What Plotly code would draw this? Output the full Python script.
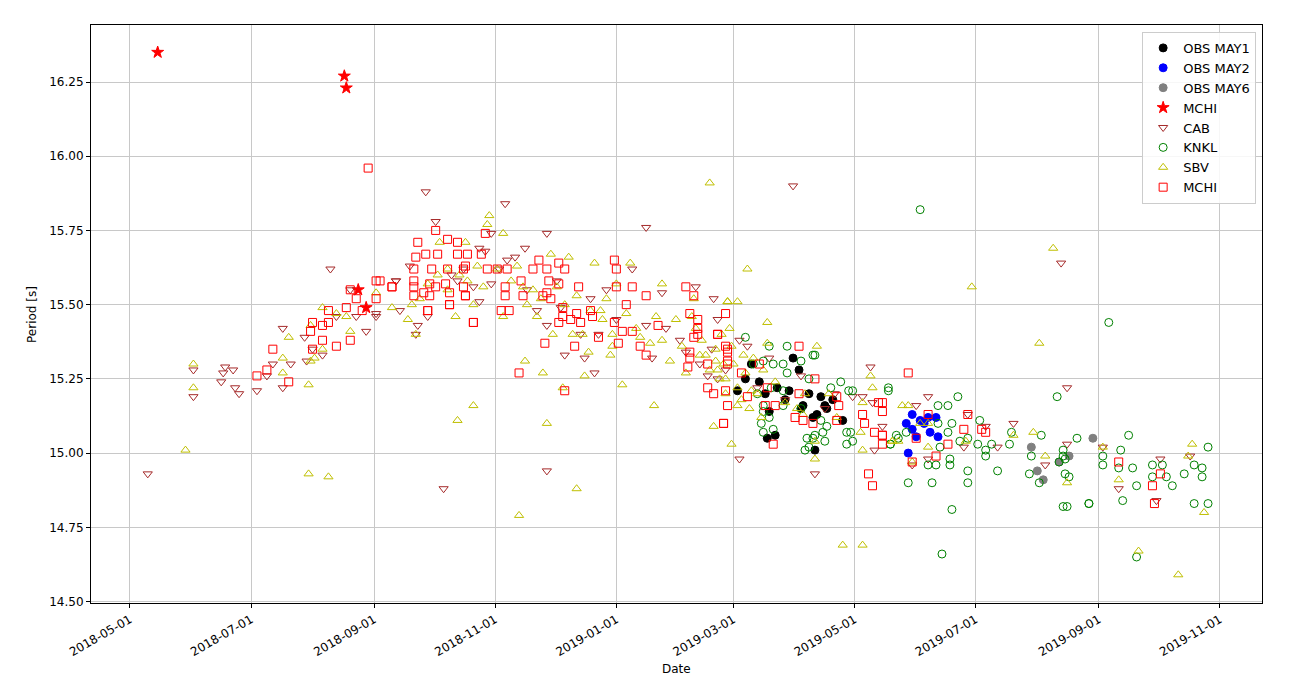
import pandas as pd
import plotly.graph_objects as go

BASE = "2018-05-01"  # day offsets below are counted from this date

# OBS MAY1
may1_day = [306, 310, 313, 317, 320, 321, 325, 326, 330, 334, 337, 338, 339, 342, 344, 345, 346, 348,
            350, 351, 354, 359, 322, 332]
may1_period = [15.21, 15.25, 15.30, 15.24, 15.20, 15.05, 15.06, 15.22, 15.18, 15.32, 15.28, 15.15, 15.16,
               15.20, 15.12, 15.01, 15.13, 15.19, 15.16, 15.15, 15.18, 15.11, 15.14, 15.21]
# OBS MAY2
may2_day = [394, 391, 400, 406, 394, 396, 407, 392, 402, 398, 403]
may2_period = [15.13, 15.10, 15.10, 15.12, 15.08, 15.055, 15.055, 15.00, 15.12, 15.11, 15.07]
# OBS MAY6
may6_day = [454, 485, 457, 460, 468, 473]
may6_period = [15.02, 15.05, 14.94, 14.91, 14.97, 14.99]
# MCHI (stars)
star_day = [14, 108, 109, 115, 119]
star_period = [16.35, 16.27, 16.23, 15.55, 15.49]
# CAB
cab_day = [9, 32, 32, 48, 47, 46, 52, 53, 55, 64, 69, 77, 72, 77, 81, 88, 89, 92, 101, 104, 114, 119, 124, 97, 134,
           149, 154, 158, 189, 210, 210, 260, 199, 176, 194, 190, 141, 134, 136, 150, 145, 144, 176, 182, 205, 210,
           217, 232, 227, 236, 219, 229, 234, 263, 260, 268, 253, 285, 294, 296, 280, 287, 291, 296, 307, 311, 293,
           307, 322, 338, 334, 364, 369, 373, 374, 375, 379, 345, 396, 402, 394, 402, 422, 420, 431, 437, 445, 469,
           472, 472, 461, 490, 498, 519, 517, 534, 111, 124, 165, 173, 179, 182, 162, 168, 186, 200, 215, 240, 245,
           270, 277, 300, 316, 330, 350, 355]
cab_period = [14.93, 15.28, 15.19, 15.29, 15.27, 15.24, 15.28, 15.22, 15.20, 15.21, 15.26, 15.42, 15.30, 15.22,
              15.30, 15.39, 15.31, 15.35, 15.62, 15.46, 15.46, 15.41, 15.46, 15.33, 15.58,
              15.88, 15.78, 14.88, 15.84, 15.74, 14.94, 15.76, 15.69, 15.69, 15.66, 15.65, 15.63, 15.58, 15.48,
              15.46, 15.43, 15.40, 15.51, 15.57, 15.48, 15.43, 15.49, 15.52, 15.40, 15.40, 15.33, 15.32, 15.27,
              15.32, 15.43, 15.54, 15.62, 15.56, 15.52, 15.45, 15.34, 15.30, 15.26, 15.25, 15.38, 15.36, 15.35,
              14.98, 15.32, 15.26, 15.90, 15.19, 15.19, 15.29, 15.17, 15.01, 15.09, 14.93, 15.16, 15.19, 14.96,
              14.98, 15.13, 15.02, 15.09, 15.02, 15.10, 15.64, 15.22, 15.03, 14.96, 15.02, 14.88, 14.98, 14.84,
              14.99, 15.55, 15.47, 15.58, 15.56, 15.68, 15.74, 15.60, 15.62, 15.62, 15.55, 15.58, 15.55, 15.45,
              15.42, 15.38, 15.28, 15.22, 15.18, 15.15, 15.20]
# KNKL
knkl_day = [310, 322, 331, 344, 345, 319, 324, 329, 331, 338, 342, 353, 358, 362, 364, 382, 314, 316, 319, 329,
            319, 322, 318, 324, 319, 341, 349, 350, 345, 361, 364, 361, 342, 340, 338, 348, 351, 323, 329, 344,
            363, 383, 386,
            398, 382, 417, 412, 407, 414, 412, 407, 408, 391, 387, 383, 406, 402, 413, 413, 392, 404, 422, 422,
            414, 409, 418, 422, 428, 427, 431, 431, 434, 437, 443, 444, 459, 454, 453, 458, 467, 477, 470, 470,
            471, 468, 471, 473, 470, 472, 483,
            493, 503, 499, 490, 490, 498, 505, 483, 500, 507, 515, 515, 520, 522, 525, 531, 536, 540, 540, 543,
            536, 543, 507]
knkl_period = [15.39, 15.36, 15.36, 15.33, 15.33, 15.31, 15.30, 15.30, 15.27, 15.31, 15.25, 15.22, 15.24, 15.21,
               15.21, 15.22, 15.30, 15.20, 15.16, 15.16, 15.14, 15.12, 15.10, 15.08, 15.07, 15.05, 15.07, 15.04,
               15.06, 15.07, 15.04, 15.03, 15.02, 15.01, 15.15, 15.11, 15.09, 15.22, 15.21, 15.05, 15.07, 15.03,
               15.06,
               15.82, 15.21, 15.19, 15.16, 15.16, 15.10, 15.07, 15.10, 15.02, 15.07, 15.05, 15.03, 14.96, 14.96,
               14.98, 14.96, 14.90, 14.90, 14.94, 14.90, 14.81, 14.66, 15.04, 15.05, 15.11, 15.03, 15.01, 14.99,
               15.03, 14.94, 15.03, 15.07, 15.06, 14.99, 14.93, 14.90, 15.19, 15.05, 15.01, 14.99, 14.98, 14.97,
               14.93, 14.92, 14.82, 14.82, 14.83,
               15.44, 15.06, 15.01, 14.99, 14.96, 14.95, 14.95, 14.83, 14.84, 14.89, 14.92, 14.96, 14.96, 14.92,
               14.89, 14.93, 14.96, 14.95, 14.92, 15.02, 14.83, 14.83, 14.65]
# SBV
sbv_day = [28, 32, 32, 80, 77, 77, 90, 90, 100, 91, 93, 97, 104, 97, 109, 111, 124, 132, 91,
           142, 156, 169, 164, 180, 181, 188, 212, 221, 234, 252, 268, 292, 140, 144, 173, 188, 205, 213, 223, 228,
           199, 208, 218, 229, 231, 248, 264, 243, 243, 242, 257, 265, 268, 262, 173, 165, 210, 280, 296, 299, 301,
           294, 225, 196,
           311, 306, 301, 321, 284, 303, 346, 373, 374, 369, 368, 369, 345, 345, 384, 321, 359, 369,
           465, 424, 458, 389, 392, 398, 402, 384, 387, 402, 421, 445, 455, 461, 472, 394, 490, 498, 535, 533, 541,
           508, 528,
           285, 288, 290, 292, 295, 297, 300, 302, 304, 306, 308, 310, 312, 314, 316, 318, 303, 298, 306, 300, 309,
           313, 319, 325, 330, 336, 340, 352, 356, 339, 295, 287, 283,
           150, 155, 160, 166, 170, 175, 185, 192, 198, 203, 207, 215, 219, 225, 232, 238, 146, 160, 178, 195, 200,
           237, 250, 255, 240, 245, 275, 278, 272]
sbv_period = [15.01, 15.30, 15.22, 15.39, 15.32, 15.27, 15.23, 14.93, 14.92, 15.31, 15.32, 15.35, 15.47, 15.49,
              15.46, 15.41, 15.54, 15.49, 15.43,
              15.50, 15.71, 15.71, 15.46, 15.77, 15.80, 15.74, 15.67, 15.66, 15.64, 15.64, 15.57, 15.91, 15.45,
              15.40, 15.50, 15.46, 15.46, 15.40, 15.40, 15.40, 15.31, 15.27, 15.22, 15.26, 15.34, 15.23, 15.16,
              15.40, 15.36, 15.33, 15.39, 15.46, 15.38, 15.37, 15.16, 15.11, 15.10, 15.27, 15.28, 15.30, 15.51,
              15.09, 14.88, 14.79,
              15.62, 15.51, 15.51, 15.44, 15.52, 15.03, 15.36, 15.26, 15.22, 15.17, 15.07, 15.01, 15.04, 14.98,
              15.04, 15.37, 14.69, 14.69,
              15.69, 15.56, 15.37, 15.16, 15.16, 15.10, 15.10, 15.04, 15.04, 15.02, 15.04, 15.06, 15.07, 14.99,
              14.90, 14.97, 15.02, 14.91, 15.03, 14.99, 14.80, 14.67, 14.59,
              15.42, 15.38, 15.33, 15.28, 15.35, 15.25, 15.20, 15.42, 15.30, 15.22, 15.18, 15.27, 15.15, 15.32,
              15.20, 15.12, 15.36, 15.40, 15.16, 15.25, 15.33, 15.21, 15.28, 15.24, 15.17, 15.15, 15.20, 15.20,
              15.12, 15.13, 15.31, 15.33, 15.46,
              15.57, 15.60, 15.62, 15.60, 15.58, 15.63, 15.62, 15.58, 15.56, 15.55, 15.52, 15.56, 15.50, 15.53,
              15.48, 15.45, 15.52, 15.55, 15.56, 15.63, 15.50, 15.48, 15.47, 15.42, 15.52, 15.57, 15.45, 15.36,
              15.31]
# MCHI (squares)
mchi_day = [72, 69, 64, 80, 92, 91, 92, 97, 100, 100, 97, 104, 111, 114, 109, 117, 111, 124, 124, 132, 120, 145,
            149, 144, 154, 160, 165, 165, 155, 169, 179, 143, 150, 161, 169, 170, 177,
            143, 152, 160, 168, 180, 185, 190, 203, 210, 216, 206, 219, 244, 245, 126, 132, 143, 151, 159, 168, 143,
            151, 148, 161, 169, 154, 150, 161, 173, 189, 197, 189, 187, 191, 198, 211, 210, 216, 208, 212, 226, 225,
            232, 218, 216, 222, 227, 233, 218, 209, 224, 236, 245, 244, 246, 248, 250, 253, 260, 257, 253, 266, 260,
            196, 219, 173,
            280, 284, 282, 286, 282, 286, 286, 291, 296, 291, 300, 301, 301, 299, 284, 296, 282, 281, 300, 300, 301,
            301, 294, 301, 299, 308, 311, 317, 321, 320, 325, 324, 337, 345, 337, 335, 339, 344, 356, 357, 356, 369,
            370, 372, 375, 377, 379, 379, 374,
            392, 379, 379, 379, 402, 396, 412, 406, 394, 422, 420, 429, 431, 498, 519, 515, 516]
mchi_period = [15.35, 15.28, 15.26, 15.24, 15.44, 15.41, 15.35, 15.43, 15.48, 15.44, 15.38, 15.36, 15.55, 15.52,
               15.49, 15.48, 15.38, 15.58, 15.52, 15.56, 15.96, 15.71, 15.67, 15.66, 15.75, 15.72, 15.71, 15.67,
               15.67, 15.63, 15.74, 15.58, 15.48, 15.50, 15.53, 15.67, 15.67,
               15.62, 15.62, 15.62, 15.62, 15.62, 15.62, 15.62, 15.62, 15.62, 15.64, 15.65, 15.62, 15.65, 15.62,
               15.58, 15.56, 15.56, 15.57, 15.57, 15.56, 15.53, 15.53, 15.54, 15.54, 15.53, 15.56, 15.48, 15.50,
               15.44, 15.56, 15.58, 15.53, 15.48, 15.48, 15.53, 15.58, 15.54, 15.57, 15.53, 15.52, 15.56, 15.47,
               15.48, 15.46, 15.44, 15.45, 15.44, 15.46, 15.49, 15.37, 15.36, 15.39, 15.56, 15.44, 15.37, 15.41,
               15.50, 15.56, 15.53, 15.36, 15.41, 15.43, 15.33, 15.27, 15.21, 15.44,
               15.56, 15.53, 15.47, 15.45, 15.34, 15.42, 15.40, 15.30, 15.40, 15.22, 15.21, 15.30, 15.34, 15.10,
               15.39, 15.40, 15.32, 15.29, 15.47, 15.36, 15.35, 15.31, 15.20, 15.16, 15.10, 15.27, 15.19, 15.30,
               15.22, 15.16, 15.16, 15.03, 15.36, 15.25, 15.20, 15.12, 15.11, 15.10, 15.19, 15.16, 15.11, 15.13,
               15.10, 14.93, 15.07, 15.17, 15.06, 15.03, 14.89,
               15.27, 15.17, 15.14, 15.06, 15.13, 15.05, 15.03, 14.99, 14.97, 15.13, 15.08, 15.08, 15.07, 14.97,
               14.93, 14.89, 14.83]

x_ticks = ["2018-05-01", "2018-07-01", "2018-09-01", "2018-11-01", "2019-01-01",
           "2019-03-01", "2019-05-01", "2019-07-01", "2019-09-01", "2019-11-01"]
y_ticks = [14.50, 14.75, 15.00, 15.25, 15.50, 15.75, 16.00, 16.25]


def to_dates(days):
    return pd.Timestamp(BASE) + pd.to_timedelta(days, unit="D")


series = [
    ("OBS MAY1", may1_day, may1_period, "circle", "black", 8),
    ("OBS MAY2", may2_day, may2_period, "circle", "#0000ff", 8),
    ("OBS MAY6", may6_day, may6_period, "circle", "#808080", 8),
    ("MCHI", star_day, star_period, "star", "#ff0000", 9),
    ("CAB", cab_day, cab_period, "triangle-down-open", "#a52a2a", 8),
    ("KNKL", knkl_day, knkl_period, "circle-open", "#008000", 8),
    ("SBV", sbv_day, sbv_period, "triangle-up-open", "#bfbf00", 8),
    ("MCHI", mchi_day, mchi_period, "square-open", "#ff0000", 8),
]

fig = go.Figure()
for name, d, p, sym, col, sz in series:
    fig.add_trace(go.Scatter(
        x=to_dates(d), y=p, mode="markers", name=name,
        marker=dict(symbol=sym, color=col, size=sz, line=dict(width=1, color=col)),
    ))

# the page body adds an 8px offset, so margins are shifted to place the axes box as in the reference
fig.update_layout(
    width=1301, height=676,
    margin=dict(l=83, r=47, t=17, b=81),
    paper_bgcolor="white", plot_bgcolor="white",
    font=dict(family="DejaVu Sans", size=12, color="black"),
    showlegend=True,
    legend=dict(x=0.995, y=0.988, xanchor="right", yanchor="top",
                bgcolor="rgba(255,255,255,0.85)", bordercolor="#cccccc", borderwidth=1,
                font=dict(size=13), tracegroupgap=0),
)
fig.update_xaxes(
    type="date",
    range=["2018-04-11 10:00", "2019-11-22 04:00"],
    tickvals=x_ticks, ticktext=x_ticks, tickangle=-30,
    tickfont=dict(size=12),
    showgrid=True, gridcolor="#c8c8c8", gridwidth=1,
    showline=True, linecolor="black", linewidth=1, mirror=True,
    ticks="outside", ticklen=4, tickcolor="black", zeroline=False,
)
fig.update_yaxes(
    range=[14.495, 16.442],
    tickvals=y_ticks, tickformat=".2f",
    tickfont=dict(size=12),
    showgrid=True, gridcolor="#c8c8c8", gridwidth=1,
    showline=True, linecolor="black", linewidth=1, mirror=True,
    ticks="outside", ticklen=4, tickcolor="black", zeroline=False,
)
fig.add_annotation(text="Date", xref="paper", yref="paper", x=0.5, y=-0.115,
                   showarrow=False, xanchor="center", yanchor="middle", font=dict(size=12))
fig.add_annotation(text="Period [s]", xref="paper", yref="paper", x=-0.0504, y=0.5,
                   showarrow=False, textangle=-90, xanchor="center", yanchor="middle", font=dict(size=12))

fig.write_html("out.html")
